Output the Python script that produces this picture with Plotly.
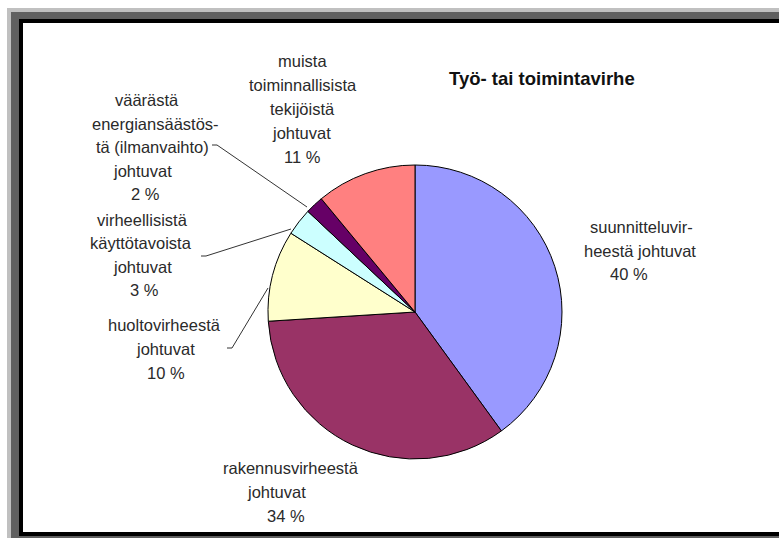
import plotly.graph_objects as go

# ---- data ----
categories = [
    "suunnitteluvirheestä johtuvat",
    "rakennusvirheestä johtuvat",
    "huoltovirheestä johtuvat",
    "virheellisistä käyttötavoista johtuvat",
    "väärästä energiansäästöstä (ilmanvaihto) johtuvat",
    "muista toiminnallisista tekijöistä johtuvat",
]
values = [40, 34, 10, 3, 2, 11]
label_lines = [
    ["suunnitteluvir-", "heestä johtuvat"],
    ["rakennusvirheestä", "johtuvat"],
    ["huoltovirheestä", "johtuvat"],
    ["virheellisistä", "käyttötavoista", "johtuvat"],
    ["väärästä", "energiansäästös-", "tä (ilmanvaihto)", "johtuvat"],
    ["muista", "toiminnallisista", "tekijöistä", "johtuvat"],
]
title_text = "Työ- tai toimintavirhe"

# ---- styles / layout ----
W, H = 779, 538
colors = ["#9999FF", "#993366", "#FFFFCC", "#CCFFFF", "#660066", "#FF8080"]
FONT = "Liberation Sans, Arial, sans-serif"

def px(x):
    return x / W

def py(y):
    return 1 - y / H

cx, cy, r = 415, 312, 147

fig = go.Figure(go.Pie(
    labels=categories,
    values=values,
    sort=False,
    direction="clockwise",
    rotation=0,
    textinfo="none",
    hoverinfo="label+percent",
    marker=dict(colors=colors, line=dict(color="#000000", width=1)),
    domain=dict(x=[px(cx - r), px(cx + r)], y=[py(cy + r), py(cy - r)]),
    showlegend=False,
))

# label placement: per line x-centres, first-line y, line step (pixels)
label_pos = [
    ([641, 640, 629], 227, 23.5),
    ([291, 276, 286], 468, 24),
    ([164, 165, 166], 325, 24),
    ([142, 141, 142, 144], 220, 23.3),
    ([147, 155, 152, 142, 145], 100, 23.5),
    ([302, 303, 302, 301, 302], 61, 24),
]

annotations = []
for lines, v, (xs, y0, dy) in zip(label_lines, values, label_pos):
    all_lines = lines + [f"{v} %"]
    for i, (t, x) in enumerate(zip(all_lines, xs)):
        annotations.append(dict(
            text=t, x=px(x), y=py(y0 + i * dy), xref="paper", yref="paper",
            xanchor="center", yanchor="middle", showarrow=False,
            font=dict(family=FONT, size=16.5, color="#2a2a2a"),
        ))
annotations.append(dict(
    text=f"<b>{title_text}</b>", x=px(541.5), y=py(78), xref="paper", yref="paper",
    xanchor="center", yanchor="middle", showarrow=False,
    font=dict(family=FONT, size=18.5, color="#111111"),
))

shapes = []
# frame: light grey, dark grey, black, white
frame = [
    (7, 8, 800, 560, "#C0C0C0"),
    (11, 12, 800, 560, "#606060"),
    (19, 19, 800, 536, "#000000"),
    (23, 23, 800, 532, "#FFFFFF"),
]
for x0, y0, x1, y1, c in frame:
    shapes.append(dict(type="rect", xref="paper", yref="paper",
                       x0=px(x0), x1=px(x1), y0=py(y1), y1=py(y0),
                       fillcolor=c, line=dict(width=0), layer="below"))

# leader lines (pixel coordinates)
leaders = [
    [(212, 145), (217, 145), (307, 207)],
    [(201, 256), (206, 256), (291, 229)],
    [(227, 348), (232, 348), (268, 288)],
]
for pts in leaders:
    path = "M " + " L ".join(f"{px(x)},{py(y)}" for x, y in pts)
    shapes.append(dict(type="path", xref="paper", yref="paper", path=path,
                       line=dict(color="#333333", width=1)))

fig.update_layout(
    width=W, height=H,
    margin=dict(l=0, r=0, t=0, b=0),
    paper_bgcolor="#FFFFFF",
    plot_bgcolor="#FFFFFF",
    annotations=annotations,
    shapes=shapes,
)

fig.write_html("out.html", config={"displayModeBar": False})
